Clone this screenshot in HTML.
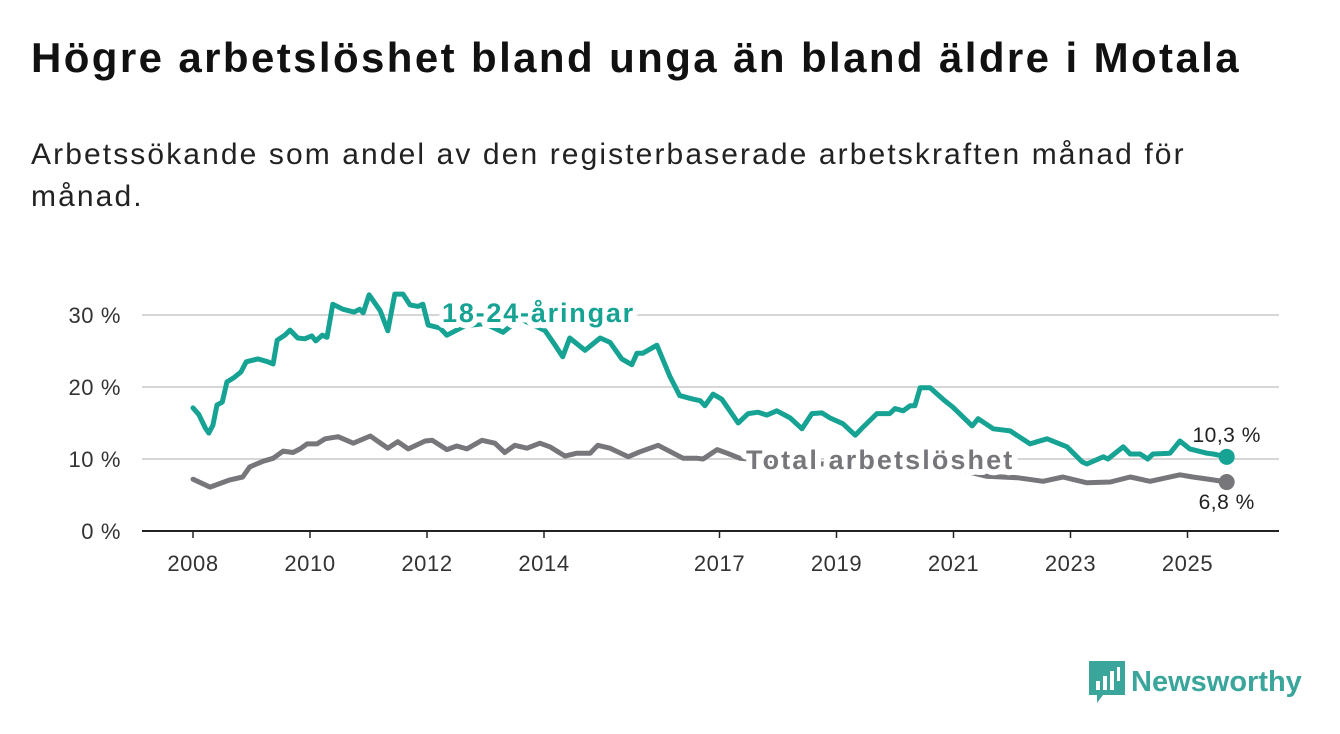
<!DOCTYPE html>
<html><head><meta charset="utf-8"><style>
body{margin:0;width:1340px;height:734px;background:#fff;font-family:"Liberation Sans","DejaVu Sans",sans-serif;overflow:hidden;position:relative}
h1{position:absolute;left:31px;top:34px;margin:0;font-size:42px;letter-spacing:2.4px;font-weight:bold;color:#111;white-space:nowrap}
.sub{position:absolute;left:31px;top:134px;margin:0;font-size:30px;letter-spacing:2.1px;line-height:42px;color:#222;white-space:nowrap}
</style></head><body>
<h1>Högre arbetslöshet bland unga än bland äldre i Motala</h1>
<p class="sub">Arbetssökande som andel av den registerbaserade arbetskraften månad för<br>månad.</p>
<svg id="chart" width="1340" height="734" style="position:absolute;left:0;top:0"></svg>
<div style="position:absolute;left:1089px;top:661px;display:flex;align-items:center">
<svg width="36" height="42" viewBox="0 0 36 42"><path d="M0 0H36V34H14L8 42V34H0Z" fill="#3aa59a"/><rect x="7" y="20" width="4" height="9" fill="#fff"/><rect x="14" y="15" width="4" height="14" fill="#fff"/><rect x="21" y="10" width="4" height="19" fill="#fff"/><rect x="28" y="6" width="3" height="14" fill="#fff"/></svg>
<span style="font-size:29px;font-weight:bold;color:#3aa59a;margin-left:6px">Newsworthy</span></div>
<script>
const youthYears=[2008.00,2008.10,2008.21,2008.27,2008.34,2008.41,2008.50,2008.58,2008.70,2008.82,2008.91,2009.11,2009.28,2009.37,2009.44,2009.57,2009.66,2009.79,2009.91,2010.03,2010.10,2010.21,2010.29,2010.39,2010.56,2010.75,2010.85,2010.91,2011.01,2011.20,2011.33,2011.45,2011.59,2011.71,2011.85,2011.93,2012.02,2012.22,2012.34,2012.65,2012.99,2013.30,2013.59,2014.02,2014.19,2014.32,2014.44,2014.70,2014.96,2015.13,2015.33,2015.50,2015.59,2015.69,2015.93,2016.15,2016.32,2016.55,2016.67,2016.75,2016.89,2017.04,2017.32,2017.49,2017.66,2017.81,2017.98,2018.21,2018.41,2018.58,2018.75,2018.89,2019.11,2019.32,2019.44,2019.69,2019.91,2020.00,2020.14,2020.26,2020.34,2020.43,2020.60,2020.85,2020.99,2021.32,2021.42,2021.68,2021.97,2022.31,2022.43,2022.60,2022.94,2023.20,2023.28,2023.56,2023.64,2023.90,2024.02,2024.19,2024.32,2024.41,2024.70,2024.87,2025.04,2025.33,2025.44,2025.67];
const youthValues=[17.1,16.2,14.3,13.6,14.7,17.5,17.9,20.7,21.3,22.1,23.5,23.9,23.5,23.2,26.5,27.2,27.9,26.8,26.7,27.1,26.4,27.2,26.9,31.5,30.8,30.4,30.8,30.3,32.8,30.6,27.8,32.9,32.9,31.4,31.2,31.5,28.6,28.2,27.2,28.5,28.8,27.6,29.5,27.8,25.8,24.2,26.8,25.1,26.8,26.2,23.9,23.1,24.7,24.7,25.8,21.5,18.8,18.3,18.1,17.4,19.0,18.3,15.0,16.3,16.5,16.1,16.7,15.7,14.2,16.3,16.4,15.7,14.9,13.3,14.3,16.3,16.3,17.0,16.7,17.4,17.4,19.9,19.9,18.1,17.2,14.6,15.6,14.2,13.9,12.1,12.4,12.8,11.7,9.6,9.3,10.3,10.0,11.7,10.7,10.7,10.0,10.7,10.8,12.5,11.4,10.8,10.7,10.3];
const totalYears=[2008.00,2008.29,2008.63,2008.85,2008.97,2009.20,2009.37,2009.54,2009.71,2009.83,2009.95,2010.12,2010.26,2010.48,2010.74,2011.03,2011.33,2011.50,2011.68,2011.97,2012.09,2012.34,2012.51,2012.68,2012.94,2013.16,2013.33,2013.50,2013.71,2013.93,2014.10,2014.36,2014.56,2014.79,2014.92,2015.13,2015.44,2015.64,2015.95,2016.38,2016.62,2016.72,2016.96,2017.13,2017.35,2018.38,2020.09,2021.11,2021.57,2022.09,2022.53,2022.87,2023.28,2023.68,2024.02,2024.36,2024.87,2025.09,2025.44,2025.67];
const totalValues=[7.2,6.1,7.1,7.5,8.9,9.7,10.1,11.1,10.9,11.4,12.1,12.1,12.8,13.1,12.2,13.2,11.5,12.4,11.4,12.5,12.6,11.3,11.8,11.4,12.6,12.2,10.9,11.9,11.5,12.2,11.7,10.4,10.8,10.8,11.9,11.5,10.3,11.0,11.9,10.1,10.1,10.0,11.3,10.8,10.1,9.4,9.0,8.5,7.6,7.4,6.9,7.5,6.7,6.8,7.5,6.9,7.8,7.5,7.1,6.8];
const yTicks=[0,10,20,30];
const xTicks=[2008,2010,2012,2014,2017,2019,2021,2023,2025];
const X=y=>193+(y-2008)*58.5;
const Y=v=>531-v*7.2;
const svg=document.getElementById('chart');
const NS='http://www.w3.org/2000/svg';
function mk(t,a){const e=document.createElementNS(NS,t);for(const k in a)e.setAttribute(k,a[k]);svg.appendChild(e);return e;}
yTicks.forEach(v=>{
  if(v>0){const g=mk('line',{x1:142,x2:1279,y1:Y(v),y2:Y(v),stroke:'#d6d6d6','stroke-width':2});
  
  }
  const t=mk('text',{x:121,y:Y(v)+8,'text-anchor':'end','font-size':22,'letter-spacing':0.6,fill:'#333'});
  t.textContent=v+' %';
  
  
});
const ax=mk('line',{x1:142,x2:1279,y1:531,y2:531,stroke:'#222','stroke-width':2});


xTicks.forEach(yr=>{
  const tk=mk('line',{x1:X(yr),x2:X(yr),y1:531,y2:538,stroke:'#222','stroke-width':1.5});
  
  
  const t=mk('text',{x:X(yr),y:571,'text-anchor':'middle','font-size':22,'letter-spacing':0.6,fill:'#333'});
  t.textContent=yr;
  
  
});
function line(xs,vs,col,name){
  const d=xs.map((x,i)=>(i?'L':'M')+X(x).toFixed(1)+' '+Y(vs[i]).toFixed(1)).join('');
  const p=mk('path',{d:d,fill:'none',stroke:col,'stroke-width':5,'stroke-linejoin':'round','stroke-linecap':'round'});
  
  
  const n=xs.length-1;
  const c=mk('circle',{cx:X(xs[n]),cy:Y(vs[n]),r:8,fill:col});
  
  
}
line(totalYears,totalValues,'#77767b','total-line');
line(youthYears,youthValues,'#16a394','youth-line');
function lbl(x,y,txt,col,ls,name){
  const t=mk('text',{x:x,y:y,'font-size':27,'letter-spacing':ls,'font-weight':'bold',fill:col,stroke:'#fff','stroke-width':12,'paint-order':'stroke','stroke-linejoin':'round'});
  t.textContent=txt;
  
  
}
lbl(442,322,'18-24-åringar','#16a394',1.8,'youth-series-label');
lbl(746,469,'Total arbetslöshet','#77767b',2.1,'total-series-label');
function val(x,y,txt,name){
  const t=mk('text',{x:x,y:y,'text-anchor':'middle','font-size':21,'letter-spacing':0.5,fill:'#222'});
  t.textContent=txt;
  
  
}
const ny=youthYears.length-1, nt=totalYears.length-1;
val(X(youthYears[ny]),Y(youthValues[ny])-15,'10,3 %','youth-end-value');
val(X(totalYears[nt]),Y(totalValues[nt])+27,'6,8 %','total-end-value');
</script>
</body></html>
